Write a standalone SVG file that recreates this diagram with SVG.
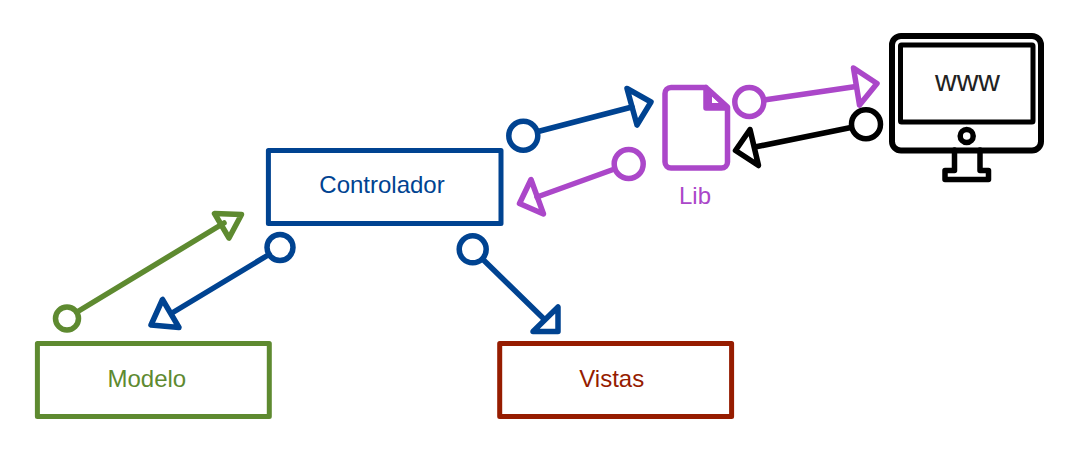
<svg xmlns="http://www.w3.org/2000/svg" width="1077" height="464" viewBox="0 0 1077 464">
<style>
.s{fill:none;stroke-linejoin:round;stroke-linecap:round}
.blue{stroke:#004391}.green{stroke:#5e8a30}.purple{stroke:#ab47c9}.red{stroke:#961c00}.black{stroke:#000}
.t{font-family:"Liberation Sans",Arial,sans-serif;font-size:24px;text-anchor:middle}
</style>
<rect width="1077" height="464" fill="#fff"/>
<g id="controlador"><rect class="s blue" x="268.400" y="150.400" width="232.600" height="73.200" stroke-width="5"/><text class="t" x="382" y="193" fill="#004391">Controlador</text></g>
<g id="modelo"><rect class="s green" x="37.400" y="343.400" width="231.900" height="73.200" stroke-width="5"/><text class="t" x="146.800" y="387" fill="#5e8a30">Modelo</text></g>
<g id="vistas"><rect class="s red" x="499.700" y="343.400" width="231.900" height="73.200" stroke-width="5"/><text class="t" x="611.700" y="387" fill="#961c00">Vistas</text></g>
<g id="lib">
<path class="s purple" stroke-width="5.500" d="M706 87.500H671a6 6 0 0 0-6 6V162a6 6 0 0 0 6 6H721.500a6 6 0 0 0 6-6V107L706 87.500V108H727.500"/>
<path fill="#ab47c9" d="M705 87L728 107V110H705ZM712 96V103H719Z" fill-rule="evenodd"/>
<text class="t" x="695" y="204" fill="#ab47c9">Lib</text>
</g>
<g id="www">
<rect class="s black" x="892" y="36" width="149" height="114.500" rx="9" stroke-width="6"/>
<rect class="s black" x="900.500" y="45" width="132.500" height="77" rx="1" stroke-width="5"/>
<circle class="s black" cx="966.700" cy="136" r="6.500" stroke-width="5.500"/>
<path class="s black" stroke-width="5.500" d="M954.500 150V170.500H945V179.500H988.500V170.500H980V150"/>
<text class="t" x="967.500" y="91" style="font-size:30px" fill="#222">www</text>
</g>
<g id="connectors" stroke-width="5.500">
<g class="s green"><circle cx="67" cy="318.500" r="11.500"/><path d="M77 312L224 223"/><path d="M214.500 213.500L241.500 214.500L229 238Z"/></g>
<g class="s blue"><circle cx="280" cy="247.500" r="13"/><path d="M269 254.500L172 313"/><path d="M162.500 299.500L151 325L179 327.500Z"/></g>
<g class="s blue"><circle cx="472.700" cy="249.300" r="13.500"/><path d="M483 259.500L544 319"/><path d="M558 307V331.500H533Z"/></g>
<g class="s blue"><circle cx="523.300" cy="135.700" r="14.500"/><path d="M538 131.500L632 107"/><path d="M627 88.500L651 102L637 125Z"/></g>
<g class="s purple"><circle cx="628.700" cy="164" r="14.500"/><path d="M614.500 169L537 197"/><path d="M531 179.500L519.500 203.500L543.500 214Z"/></g>
<g class="s purple"><circle cx="749.300" cy="102" r="14.500"/><path d="M764 100L856 86.500"/><path d="M853.500 68L877 83.500L859.500 105Z"/></g>
<g class="s black"><circle cx="866" cy="124.300" r="14.500"/><path d="M851 127.500L755 147"/><path d="M750 129.500L735.500 150.500L758.500 165.500Z"/></g>
</g>
</svg>
